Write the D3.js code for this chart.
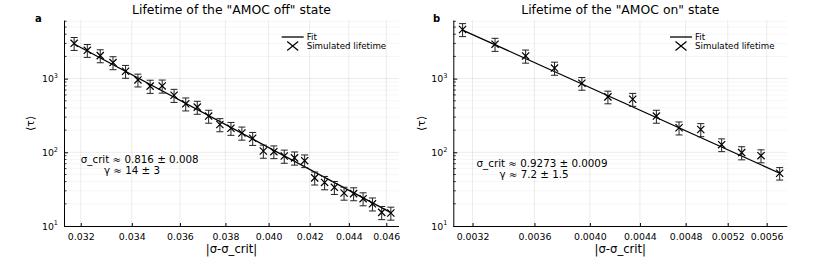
<!DOCTYPE html>
<html>
<head>
<meta charset="utf-8">
<script src="https://cdn.jsdelivr.net/npm/d3@7"></script>
<style>
  body { margin: 0; background: #fff; }
  text { font-family: "DejaVu Sans", sans-serif; fill: #000; }
</style>
</head>
<body>
<div id="chart"></div>
<script>
// AMOC off: |σ-σ_crit| and mean lifetime
const xOff = [0.03175, 0.03225, 0.03275, 0.03325, 0.03375, 0.03425, 0.03475, 0.03525, 0.03575, 0.03625,
  0.03675, 0.03725, 0.03775, 0.03825, 0.03875, 0.03925, 0.03975, 0.04025, 0.04075, 0.04125,
  0.04175, 0.04225, 0.04275, 0.04325, 0.04375, 0.04425, 0.04475, 0.04525, 0.04575, 0.04625];
const tauOff = [3010, 2420, 2050, 1650, 1260, 960, 790, 795, 595, 455,
  410, 310, 238, 212, 183, 155, 104, 102, 89, 84,
  77, 45, 39, 33.5, 28, 27.5, 23.5, 20, 15.3, 15];
const errOff = [600, 480, 410, 330, 250, 190, 160, 160, 120, 91,
  82, 62, 48, 42, 37, 31, 21, 20, 18, 17,
  15, 9, 8, 6.7, 5.6, 5.5, 4.7, 4, 3.1, 3];
const fitOffX = [0.03175, 0.04625];
const fitOffTau = [2950, 15.2];

// AMOC on
const xOn = [0.00314, 0.00334, 0.00354, 0.00374, 0.00394, 0.00414, 0.00434,
  0.00454, 0.00474, 0.00494, 0.00514, 0.00534, 0.00554, 0.00574];
const tauOn = [4640, 2930, 2030, 1390, 865, 565, 525, 310, 215, 204, 127, 99, 90, 52];
const errOn = [930, 590, 410, 280, 170, 110, 105, 62, 43, 41, 25, 20, 18, 10];
const fitOnX = [0.00314, 0.00574];
const fitOnTau = [4550, 52];

const xTicksOff = [0.032, 0.034, 0.036, 0.038, 0.040, 0.042, 0.044, 0.046];
const xTicksOn = [0.0032, 0.0036, 0.0040, 0.0044, 0.0048, 0.0052, 0.0056];
const yTicks = [10, 100, 1000];

const width = 830, height = 258;
const plotTop = 20.7, plotBottom = 226;

const svg = d3.select("#chart").append("svg")
  .attr("width", width).attr("height", height);

function xMark(g, cx, cy, hw, hh) {
  g.append("path")
    .attr("d", `M${cx - hw},${cy - hh}L${cx + hw},${cy + hh}M${cx - hw},${cy + hh}L${cx + hw},${cy - hh}`)
    .attr("stroke", "#000").attr("stroke-width", 1.2).attr("fill", "none");
}

function panel(opt) {
  const g = svg.append("g");
  const x = d3.scaleLog().domain(opt.xDomain).range([opt.left, opt.right]);
  const y = d3.scaleLog().domain([10, 6104]).range([plotBottom, plotTop]);

  // minor grid
  const minor = [];
  for (let e = 1; e <= 3; e++) for (let m = 2; m <= 9; m++) if (m * 10 ** e < 6104) minor.push(m * 10 ** e);
  g.selectAll(".ming").data(minor).enter().append("line")
    .attr("x1", opt.left).attr("x2", opt.right)
    .attr("y1", d => y(d)).attr("y2", d => y(d))
    .attr("stroke", "#000").attr("stroke-opacity", 0.05).attr("stroke-width", 0.8);
  // major grid
  g.selectAll(".majg").data(yTicks.slice(1)).enter().append("line")
    .attr("x1", opt.left).attr("x2", opt.right)
    .attr("y1", d => y(d)).attr("y2", d => y(d))
    .attr("stroke", "#000").attr("stroke-opacity", 0.1).attr("stroke-width", 0.8);
  g.selectAll(".xg").data(opt.xTicks).enter().append("line")
    .attr("x1", d => x(d)).attr("x2", d => x(d))
    .attr("y1", plotTop).attr("y2", plotBottom)
    .attr("stroke", "#000").attr("stroke-opacity", 0.1).attr("stroke-width", 0.8);

  // axes (ticks inside)
  const xAxis = g.append("g").attr("transform", `translate(0,${plotBottom})`)
    .call(d3.axisBottom(x).tickValues(opt.xTicks).tickFormat(d3.format(opt.fmt)).tickSize(-3).tickPadding(7))
    .call(a => a.select(".domain").attr("d", `M${opt.left},0.5H${opt.right}`).attr("stroke", "#000").attr("stroke-width", 1));
  xAxis.selectAll("text").attr("font-size", 9.4).attr("font-family", "DejaVu Sans");

  const yAxis = g.append("g").attr("transform", `translate(${opt.left},0)`)
    .call(d3.axisLeft(y).tickValues(yTicks).tickFormat("").tickSize(-4))
    .call(a => a.select(".domain").attr("d", `M0.5,${plotTop}V${plotBottom}`).attr("stroke", "#000").attr("stroke-width", 1));
  yAxis.selectAll(".mt").data(minor).enter().append("line")
    .attr("x1", 0).attr("x2", 2.5).attr("y1", d => y(d)).attr("y2", d => y(d))
    .attr("stroke", "#000").attr("stroke-width", 0.8);

  // y tick labels 10^k
  yTicks.forEach(v => {
    const t = g.append("text").attr("x", opt.left - 6).attr("y", y(v) + 3.8)
      .attr("text-anchor", "end").attr("font-size", 9.4);
    t.append("tspan").text("10");
    t.append("tspan").attr("font-size", 6.5).attr("dy", -4.5).text(Math.log10(v));
  });

  // fit line
  g.append("path")
    .datum(opt.fitX.map((d, i) => [d, opt.fitTau[i]]))
    .attr("d", d3.line().x(d => x(d[0])).y(d => y(d[1])))
    .attr("stroke", "#000").attr("stroke-width", 1.3).attr("fill", "none");

  // error bars + markers
  opt.xs.forEach((xv, i) => {
    const cx = x(xv), v = opt.tau[i], e = opt.err[i];
    const y0 = y(v + e), y1 = y(v - e);
    g.append("path")
      .attr("d", `M${cx},${y0}V${y1}M${cx - 3.5},${y0}H${cx + 3.5}M${cx - 3.5},${y1}H${cx + 3.5}`)
      .attr("stroke", "#222").attr("stroke-width", 1).attr("fill", "none");
    xMark(g, cx, y(v), 3.6, 3.6);
  });

  // legend
  g.append("line").attr("x1", opt.legX).attr("x2", opt.legX + 22).attr("y1", 37).attr("y2", 37)
    .attr("stroke", "#000").attr("stroke-width", 1.3);
  g.append("text").attr("x", opt.legX + 25).attr("y", 40).attr("font-size", 8.7).text("Fit");
  xMark(g, opt.legX + 11, 46, 5.5, 4.5);
  g.append("text").attr("x", opt.legX + 25).attr("y", 49).attr("font-size", 8.7).text("Simulated lifetime");

  // annotation
  g.append("text").attr("x", opt.ann[0]).attr("y", opt.ann[1]).attr("text-anchor", "middle")
    .attr("font-size", 10.3).text(opt.annText[0]);
  g.append("text").attr("x", opt.ann[2]).attr("y", opt.ann[1] + 11).attr("text-anchor", "middle")
    .attr("font-size", 10.3).text(opt.annText[1]);

  // titles and labels
  g.append("text").attr("x", (opt.left + opt.right) / 2).attr("y", 14).attr("text-anchor", "middle")
    .attr("font-size", 12.4).text(opt.title);
  g.append("text").attr("x", (opt.left + opt.right) / 2).attr("y", 252.5).attr("text-anchor", "middle")
    .attr("font-size", 11.6).text("|σ-σ_crit|");
  g.append("text").attr("transform", `translate(${opt.yLabX},${(plotTop + plotBottom) / 2}) rotate(-90)`)
    .attr("text-anchor", "middle").attr("font-size", 11).text("⟨τ⟩");
  g.append("text").attr("x", opt.tagX).attr("y", 22).attr("font-size", 10).attr("font-weight", "bold")
    .text(opt.tag);
}

panel({
  left: 64, right: 399, xDomain: [0.03137, 0.04670], xTicks: xTicksOff, fmt: ".3f",
  xs: xOff, tau: tauOff, err: errOff, fitX: fitOffX, fitTau: fitOffTau,
  legX: 281.7, ann: [139.7, 163, 132], annText: ["σ_crit ≈ 0.816 ± 0.008", "γ ≈ 14 ± 3"],
  title: "Lifetime of the \"AMOC off\" state", yLabX: 34, tag: "a", tagX: 35
});
panel({
  left: 453.3, right: 787.3, xDomain: [0.003085, 0.005824], xTicks: xTicksOn, fmt: ".4f",
  xs: xOn, tau: tauOn, err: errOn, fitX: fitOnX, fitTau: fitOnTau,
  legX: 670, ann: [542, 167, 534], annText: ["σ_crit ≈ 0.9273 ± 0.0009", "γ ≈ 7.2 ± 1.5"],
  title: "Lifetime of the \"AMOC on\" state", yLabX: 425, tag: "b", tagX: 433
});
</script>
</body>
</html>
